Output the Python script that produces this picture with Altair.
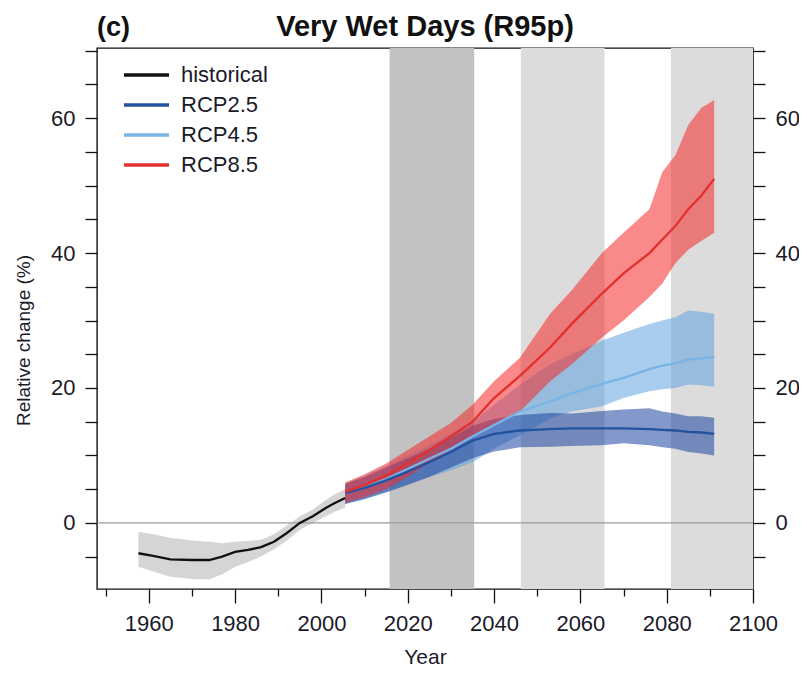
import altair as alt
import pandas as pd

FONT = "Liberation Sans"

# ---------------- data ----------------
hist_years = [1957.6, 1961, 1965, 1970, 1974, 1977, 1980, 1983, 1986, 1989, 1992, 1995, 1998, 2001, 2003, 2005.5]
hist_mean = [-4.5, -4.9, -5.4, -5.5, -5.5, -5.0, -4.3, -4.0, -3.6, -2.8, -1.5, 0.0, 1.0, 2.2, 2.9, 3.7]
hist_lo = [-6.5, -7.2, -8.0, -8.3, -8.4, -7.6, -6.5, -5.8, -5.0, -3.9, -2.6, -1.0, 0.0, 1.0, 1.6, 2.3]
hist_hi = [-1.3, -1.7, -2.2, -2.6, -2.8, -3.0, -2.8, -2.7, -2.5, -1.7, -0.4, 1.0, 2.0, 3.4, 4.2, 5.0]

rcp_years = [2005.5, 2010, 2015, 2020, 2025, 2030, 2035, 2040, 2046, 2053, 2058, 2065, 2070, 2076, 2079, 2082, 2085, 2088, 2091]

rcp26_mean = [4.4, 5.2, 6.3, 7.6, 9.0, 10.5, 12.2, 13.2, 13.7, 13.9, 14.0, 14.0, 14.0, 13.9, 13.8, 13.7, 13.5, 13.4, 13.2]
rcp26_lo = [2.8, 3.5, 4.5, 5.6, 6.8, 8.2, 9.6, 10.6, 11.2, 11.3, 11.4, 11.5, 11.8, 11.5, 11.2, 11.0, 10.5, 10.3, 10.0]
rcp26_hi = [5.8, 6.8, 8.2, 9.6, 11.0, 12.6, 14.4, 15.4, 16.0, 16.3, 16.2, 16.6, 16.8, 17.0, 16.5, 16.2, 15.8, 15.8, 15.6]

rcp45_mean = [4.4, 5.3, 6.5, 8.0, 9.5, 11.0, 12.8, 14.5, 16.5, 18.0, 19.2, 20.6, 21.5, 22.8, 23.3, 23.7, 24.2, 24.4, 24.6]
rcp45_lo = [2.8, 3.6, 4.6, 5.8, 6.8, 7.8, 9.0, 11.0, 13.0, 15.5, 16.5, 17.3, 18.5, 19.5, 19.8, 20.0, 20.5, 20.4, 20.2]
rcp45_hi = [5.8, 7.0, 8.5, 10.0, 11.5, 13.2, 15.0, 17.5, 20.5, 23.5, 25.0, 27.0, 28.2, 29.5, 30.0, 30.5, 31.5, 31.3, 31.0]

rcp85_mean = [4.6, 5.6, 7.0, 8.8, 10.8, 12.8, 15.0, 18.5, 21.8, 26.0, 29.5, 34.0, 37.0, 40.0, 42.0, 44.0, 46.5, 48.5, 51.0]
rcp85_lo = [3.0, 3.8, 5.0, 6.8, 8.9, 10.8, 12.8, 14.5, 16.5, 21.0, 23.5, 27.5, 30.0, 33.5, 35.5, 38.5, 40.5, 41.8, 43.0]
rcp85_hi = [6.0, 7.2, 8.8, 10.8, 12.8, 14.8, 17.5, 21.0, 24.5, 31.0, 34.5, 40.0, 43.0, 46.5, 52.0, 54.5, 59.0, 61.5, 62.7]

period_start = [2015.8, 2046.2, 2081.0]
period_end = [2035.4, 2065.6, 2100.0]
period_shade = ["dark", "light", "light"]

series_names = ["historical", "RCP2.5", "RCP4.5", "RCP8.5"]
line_colors = ["#111111", "#23529f", "#78b4e4", "#e3302f"]

x_major = [1960, 1980, 2000, 2020, 2040, 2060, 2080, 2100]
x_minor = [1950, 1970, 1990, 2010, 2030, 2050, 2070, 2090]
y_ticks = [-5, 0, 5, 10, 15, 20, 25, 30, 35, 40, 45, 50, 55, 60, 65, 70]

# ---------------- frames ----------------
def band_df(years, mean, lo, hi, name):
    return pd.DataFrame({"year": years, "mean": mean, "lo": lo, "hi": hi, "scenario": name})

hist = band_df(hist_years, hist_mean, hist_lo, hist_hi, "historical")
r26 = band_df(rcp_years, rcp26_mean, rcp26_lo, rcp26_hi, "RCP2.5")
r45 = band_df(rcp_years, rcp45_mean, rcp45_lo, rcp45_hi, "RCP4.5")
r85 = band_df(rcp_years, rcp85_mean, rcp85_lo, rcp85_hi, "RCP8.5")
lines_df = pd.concat([hist, r45, r26, r85], ignore_index=True)

periods = pd.DataFrame({"start": period_start, "end": period_end, "shade": period_shade})

W, H = 656, 541
xscale = alt.Scale(domain=[1948, 2100], nice=False, zero=False)
yscale = alt.Scale(domain=[-9.8, 70.4], nice=False, zero=False)

ylabel_expr = "datum.value % 20 == 0 ? datum.label : ''"

# background periods (carry the major x axis)
rects = alt.Chart(periods).mark_rect().encode(
    x=alt.X("start:Q", scale=xscale,
            axis=alt.Axis(values=x_major, format="d", tickSize=14, tickWidth=1.3, tickColor="#111",
                          labelPadding=10, labelFlush=False, labelOverlap=False,
                          labelFontSize=22, grid=False, domain=False,
                          title="Year", titleFontSize=21, titleFontWeight="normal",
                          titleX=W / 2, titleY=74, titleBaseline="alphabetic", orient="bottom")),
    x2="end:Q",
    fill=alt.Fill("shade:N", scale=alt.Scale(domain=["dark", "light"], range=["#c2c2c2", "#dcdcdc"]), legend=None),
)

# zero line (carries the left y axis)
zero = alt.Chart(pd.DataFrame({"v": [0]})).mark_rule(color="#9a9a9a", strokeWidth=1.2).encode(
    y=alt.Y("v:Q", scale=yscale,
            axis=alt.Axis(values=y_ticks, labelExpr=ylabel_expr, tickSize=12, tickWidth=1.3, tickColor="#111",
                          labelPadding=10, labelFontSize=22, grid=False, domain=False, orient="left",
                          title="Relative change (%)", titleFontSize=19, titleFontWeight="normal",
                          titleX=-68, titleY=292, titleBaseline="alphabetic", titleAngle=-90)),
)

def band(df, color, opacity, with_axes=False):
    if with_axes:
        xax = alt.Axis(values=x_minor, tickSize=7, tickWidth=1.3, tickColor="#111", labels=False,
                       grid=False, domain=False, title=None, orient="bottom")
        yax = alt.Axis(values=y_ticks, labelExpr=ylabel_expr, tickSize=12, tickWidth=1.3, tickColor="#111",
                       labelPadding=10, labelFontSize=22, grid=False, domain=False, title=None, orient="right")
    else:
        xax = None
        yax = None
    return alt.Chart(df).mark_area(color=color, opacity=opacity, interpolate="linear").encode(
        x=alt.X("year:Q", scale=xscale, axis=xax),
        y=alt.Y("lo:Q", scale=yscale, axis=yax),
        y2="hi:Q",
    )

hist_band = band(hist, "#9a9a9a", 0.42, with_axes=True)
b45 = band(r45, "#5aa0e1", 0.52)
b26 = band(r26, "#1e46a0", 0.55)
b85 = band(r85, "#f52a2a", 0.55)

lines = alt.Chart(lines_df).mark_line(strokeWidth=2.3).encode(
    x=alt.X("year:Q", scale=xscale, axis=None),
    y=alt.Y("mean:Q", scale=yscale, axis=None),
    color=alt.Color("scenario:N", scale=alt.Scale(domain=series_names, range=line_colors),
                    legend=alt.Legend(orient="none", legendX=25, legendY=16, title=None,
                                      symbolType="stroke", symbolSize=2025, symbolStrokeWidth=3.5,
                                      labelFontSize=22, labelFont=FONT, labelColor="#1a1a2a",
                                      labelOffset=10, rowPadding=8, clipHeight=22, padding=0)),
)

title = alt.Chart(pd.DataFrame({"t": ["Very Wet Days (R95p)"]})).mark_text(
    font=FONT, fontSize=29, fontWeight="bold", align="center", baseline="alphabetic", color="#111"
).encode(text="t:N", x=alt.value(W / 2), y=alt.value(-12))

panel = alt.Chart(pd.DataFrame({"t": ["(c)"]})).mark_text(
    font=FONT, fontSize=27, fontWeight="bold", align="left", baseline="alphabetic", color="#111"
).encode(text="t:N", x=alt.value(0), y=alt.value(-12))

chart = alt.layer(rects, zero, hist_band, b45, b26, b85, lines, title, panel).resolve_axis(
    x="independent", y="independent"
).properties(
    width=W, height=H,
    autosize=alt.AutoSizeParams(type="none"),
    padding={"left": 89, "top": 40, "right": 46, "bottom": 84},
).configure_view(
    stroke="#111", strokeWidth=1.4
).configure_axis(
    labelFont=FONT, titleFont=FONT, labelColor="#1a1a2a", titleColor="#1a1a2a"
)

chart.save("out.html", embed_options={"renderer": "svg", "actions": False})
